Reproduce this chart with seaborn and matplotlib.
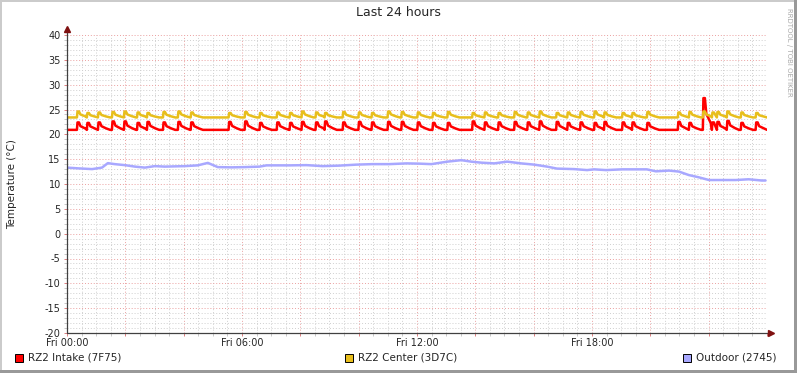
import matplotlib
matplotlib.use('Agg')
import matplotlib.pyplot as plt
import seaborn as sns
import pandas as pd
from matplotlib.patches import Rectangle
from matplotlib.ticker import MultipleLocator, FuncFormatter

# hours since Fri 00:00 at which the heating cycles kick in
cycle_h = [0.34, 0.68, 1.06, 1.54, 1.95, 2.40, 2.74, 3.29, 3.80, 4.24, 5.54, 6.09,
           6.60, 7.19, 7.63, 8.04, 8.52, 8.83, 9.45, 9.99, 10.44, 10.99, 11.46, 12.01,
           12.53, 13.04, 13.89, 14.31, 14.78, 15.33, 15.78, 16.19, 16.77, 17.15, 17.59, 18.07,
           18.41, 19.03, 19.37, 19.88, 20.94, 21.32, 21.80, 22.11, 22.28, 22.62, 23.10, 23.61]

intake_base = 20.9
intake_peak = [22.4, 22.3, 22.4, 22.6, 22.6, 22.3, 22.5, 22.4, 22.5, 22.4, 22.5, 22.6,
               22.3, 22.4, 22.3, 22.5, 22.4, 22.6, 22.4, 22.5, 22.4, 22.5, 22.5, 22.4,
               22.3, 22.3, 22.6, 22.4, 22.4, 22.5, 22.4, 22.6, 22.5, 22.3, 22.4, 22.3,
               22.5, 22.4, 22.4, 22.3, 22.5, 22.3, 27.3, 22.4, 22.5, 22.7, 22.3, 22.4]

center_base = 23.4
center_peak = [24.6, 24.3, 24.4, 24.5, 24.6, 24.4, 24.3, 24.5, 24.6, 24.4, 24.3, 24.5,
               24.3, 24.4, 24.3, 24.6, 24.4, 24.3, 24.5, 24.4, 24.3, 24.6, 24.5, 24.4,
               24.3, 24.5, 24.3, 24.4, 24.3, 24.5, 24.4, 24.6, 24.3, 24.4, 24.5, 24.6,
               24.4, 24.3, 24.3, 24.5, 24.4, 24.5, 24.6, 24.4, 24.5, 24.6, 24.4, 24.3]

outdoor_h = [0.00, 0.38, 0.86, 1.20, 1.40, 1.64, 1.98, 2.33, 2.67, 3.01, 3.35, 3.70,
             4.04, 4.48, 4.83, 5.17, 5.65, 6.09, 6.60, 6.84, 7.63, 8.21, 8.76, 9.34,
             9.92, 10.47, 11.05, 11.64, 12.08, 12.49, 13.04, 13.52, 13.86, 14.20, 14.65, 15.09,
             15.57, 16.02, 16.46, 16.80, 17.39, 17.83, 18.07, 18.48, 19.03, 19.88, 20.19, 20.64,
             20.98, 21.32, 21.66, 22.01, 22.45, 22.93, 23.37, 23.82, 23.95]
outdoor_c = [13.3, 13.15, 13.0, 13.3, 14.2, 14.0, 13.8, 13.5, 13.3, 13.6, 13.5, 13.55,
             13.6, 13.75, 14.25, 13.4, 13.35, 13.4, 13.5, 13.75, 13.75, 13.8, 13.6, 13.7,
             13.9, 14.0, 14.0, 14.15, 14.1, 14.0, 14.5, 14.8, 14.5, 14.3, 14.15, 14.5,
             14.15, 13.9, 13.5, 13.1, 13.0, 12.8, 12.95, 12.8, 12.95, 12.95, 12.55, 12.7,
             12.5, 11.8, 11.35, 10.8, 10.8, 10.8, 10.95, 10.7, 10.7]

labels = ['RZ2 Intake (7F75)', 'RZ2 Center (3D7C)', 'Outdoor (2745)']
colors = ['#FF0000', '#E8BE1C', '#A8A8FF']


def sawtooth(times, peaks, base):
    # quick rise, short plateau, slow decay back to the base level
    xs, ys = [0.0], [base]
    offs = [0.0, 0.02, 0.07, 0.12, 0.28, 0.42]
    for i, (t, p) in enumerate(zip(times, peaks)):
        nxt = times[i + 1] if i + 1 < len(times) else 24.0
        lv = [base, p, p, base + 0.5 * (p - base), base + 0.2 * (p - base), base]
        for o, v in zip(offs, lv):
            if t + o < nxt:
                xs.append(t + o)
                ys.append(v)
    xs.append(24.0)
    ys.append(base)
    return pd.DataFrame({'hour': xs, 'degc': ys})


sns.set_style('white')
plt.rcParams['font.family'] = ['DejaVu Sans']

W, H = 797, 373
fig = plt.figure(figsize=(W / 100, H / 100), dpi=100)
fig.patch.set_facecolor('white')
ax = fig.add_axes([67 / W, 1 - 333 / H, 700 / W, 298 / H])
ax.set_facecolor('white')

series = [sawtooth(cycle_h, intake_peak, intake_base),
          sawtooth(cycle_h, center_peak, center_base),
          pd.DataFrame({'hour': outdoor_h, 'degc': outdoor_c})]
for df, c in zip(series, colors):
    sns.lineplot(data=df, x='hour', y='degc', color=c, lw=1.8, ax=ax,
                 estimator=None, sort=False, zorder=3)

ax.set_xlim(0, 24)
ax.set_ylim(-20, 40)
ax.xaxis.set_major_locator(MultipleLocator(2))
ax.xaxis.set_minor_locator(MultipleLocator(0.5))
ax.yaxis.set_major_locator(MultipleLocator(5))
ax.yaxis.set_minor_locator(MultipleLocator(1))
ax.xaxis.set_major_formatter(FuncFormatter(
    lambda v, p: 'Fri %02d:00' % int(round(v)) if int(round(v)) % 6 == 0 and v < 23 else ''))
ax.yaxis.set_major_formatter(FuncFormatter(lambda v, p: '%d' % v))

ax.grid(which='major', color='#EBA0A0', lw=0.7, ls=(0, (1, 2)))
ax.grid(which='minor', color='#CFCFCF', lw=0.7, ls=(0, (1, 2)))
ax.set_axisbelow(True)
ax.tick_params(which='major', length=2, width=0.7, color='#E08080', labelsize=7,
               pad=2.5, direction='out', left=True, bottom=True)
ax.tick_params(which='minor', length=2, width=0.7, color='#C8C8C8', direction='out',
               left=True, bottom=True)
ax.tick_params(axis='x', pad=1.5)
ax.set_xlabel('')
ax.set_ylabel('')
for s in ax.spines.values():
    s.set_visible(False)

# axes with arrow heads
ax.plot([0, 0], [-20, 41.0], color='#404040', lw=0.9, clip_on=False, zorder=4)
ax.plot([0, 24.1], [-20, -20], color='#404040', lw=0.9, clip_on=False, zorder=4)
ax.plot([0], [41.3], marker='^', ms=4, color='#7F1010', clip_on=False, zorder=5)
ax.plot([24.15], [-20], marker='>', ms=4, color='#7F1010', clip_on=False, zorder=5)

fig.text(398 / W, 1 - 13 / H, 'Last 24 hours', ha='center', va='center', fontsize=9)
fig.text(12 / W, 1 - 184 / H, 'Temperature (°C)', rotation=90, ha='center',
         va='center', fontsize=7.5)
fig.text(789 / W, 1 - 52 / H, 'RRDTOOL / TOBI OETIKER', rotation=270, ha='center',
         va='center', fontsize=5, color='#A8A8A8')

# legend row
for x0, lab, c in zip([15, 345, 683], labels, colors):
    fig.add_artist(Rectangle((x0 / W, 1 - 362 / H), 8 / W, 8 / H, transform=fig.transFigure,
                             facecolor=c, edgecolor='black', lw=0.7))
    fig.text((x0 + 13) / W, 1 - 358 / H, lab, ha='left', va='center', fontsize=7.5)

# 3d frame
fig.add_artist(Rectangle((0, 1 - 2 / H), 1, 2 / H, transform=fig.transFigure,
                         facecolor='#CBCBCB', lw=0))
fig.add_artist(Rectangle((0, 0), 2 / W, 1, transform=fig.transFigure,
                         facecolor='#CBCBCB', lw=0))
fig.add_artist(Rectangle((0, 0), 1, 3 / H, transform=fig.transFigure,
                         facecolor='#999999', lw=0))
fig.add_artist(Rectangle((1 - 3 / W, 0), 3 / W, 1, transform=fig.transFigure,
                         facecolor='#999999', lw=0))

fig.savefig('out.png', dpi=100)
